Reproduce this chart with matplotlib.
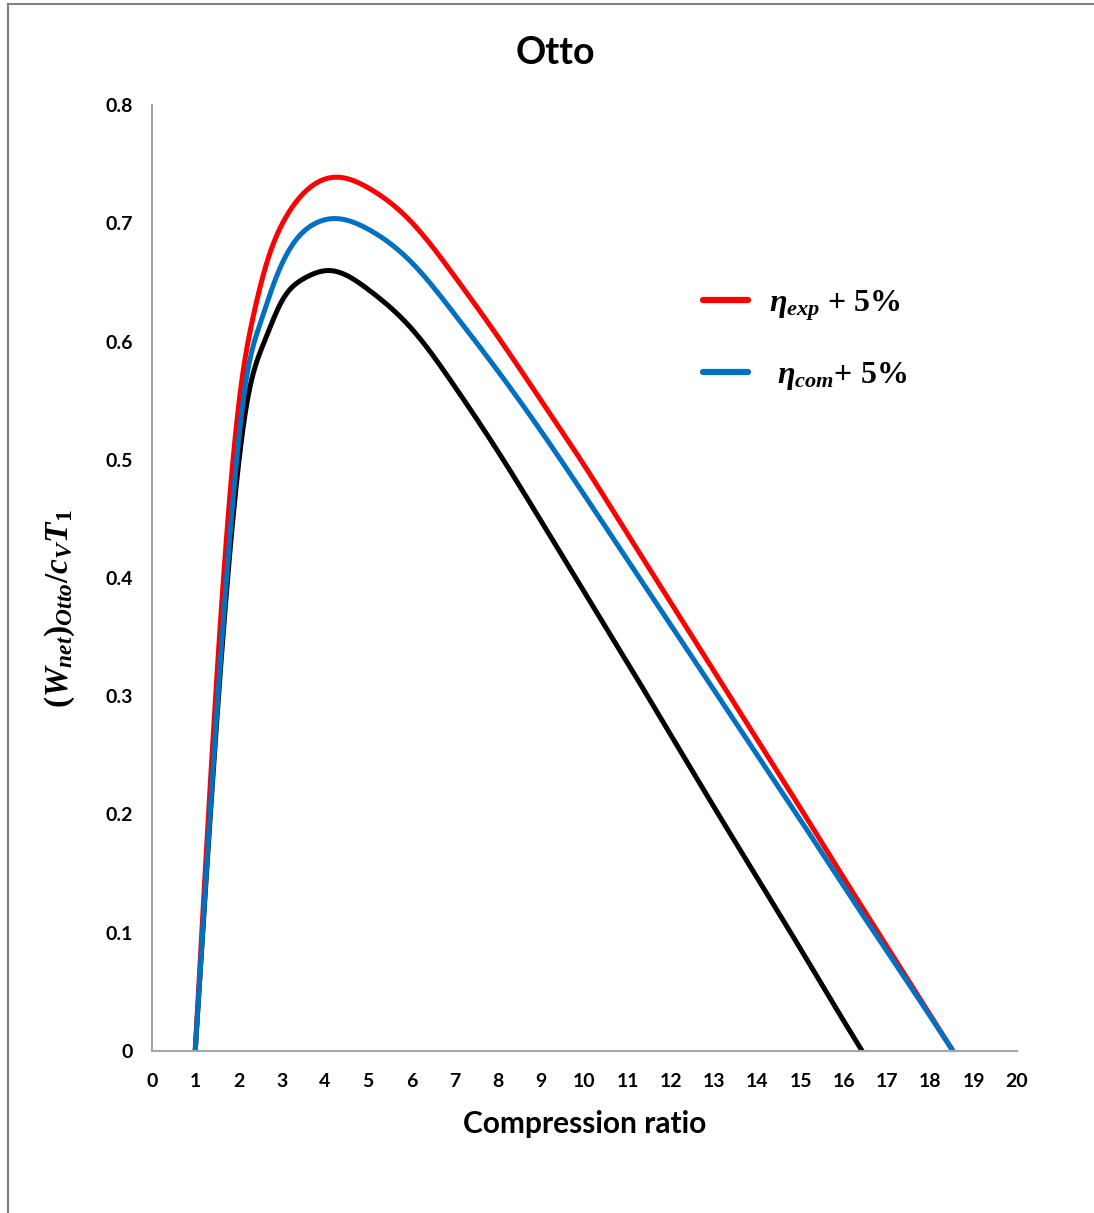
import numpy as np
import matplotlib
matplotlib.use("Agg")
import matplotlib.pyplot as plt
from matplotlib.lines import Line2D

# ---- data ----
ratio_base = [1, 1.92, 2.2, 2.6, 3, 3.5, 4.12, 5, 6, 7, 8, 9, 10, 11, 12, 13, 14, 15, 16, 16.42]
w_base = [0.0, 0.468, 0.549, 0.600, 0.634, 0.653, 0.660, 0.644, 0.611, 0.562, 0.507,
          0.448, 0.388, 0.328, 0.267, 0.206, 0.146, 0.086, 0.025, 0.0]

ratio_exp = [1, 1.8, 2.07, 2.34, 2.65, 3.11, 3.58, 4.27, 5, 6, 7, 8, 9, 10, 11, 12, 13,
             14, 15, 16, 17, 18, 18.52]
w_exp = [0.0, 0.469, 0.565, 0.621, 0.666, 0.706, 0.728, 0.739, 0.730, 0.701, 0.655,
         0.604, 0.550, 0.495, 0.437, 0.379, 0.321, 0.263, 0.205, 0.146, 0.088, 0.030, 0.0]

ratio_com = [1, 1.88, 2.15, 2.5, 2.88, 3.27, 3.73, 4.23, 5, 6, 7, 8, 9, 10, 11, 12, 13,
             14, 15, 16, 17, 18, 18.52]
w_com = [0.0, 0.469, 0.561, 0.615, 0.655, 0.683, 0.699, 0.704, 0.695, 0.667, 0.623,
         0.575, 0.524, 0.470, 0.415, 0.360, 0.305, 0.250, 0.195, 0.139, 0.084, 0.029, 0.0]

x_ticks = list(range(0, 21))
y_ticks = [0, 0.1, 0.2, 0.3, 0.4, 0.5, 0.6, 0.7, 0.8]
y_tick_labels = ["0", "0.1", "0.2", "0.3", "0.4", "0.5", "0.6", "0.7", "0.8"]
legend_labels = [r"$\eta_{exp}$ + 5%", r" $\eta_{com}$+ 5%"]


def smooth(xs, ys, n=30):
    """Smoothed rendering of the line (natural cubic spline through the points)."""
    x = np.asarray(xs, float)
    y = np.asarray(ys, float)
    N = len(x)
    h = np.diff(x)
    A = np.zeros((N, N))
    b = np.zeros(N)
    A[0, 0] = 1.0
    A[-1, -1] = 1.0
    for i in range(1, N - 1):
        A[i, i - 1] = h[i - 1]
        A[i, i] = 2 * (h[i - 1] + h[i])
        A[i, i + 1] = h[i]
        b[i] = 6 * ((y[i + 1] - y[i]) / h[i] - (y[i] - y[i - 1]) / h[i - 1])
    M = np.linalg.solve(A, b)
    ox, oy = [], []
    for i in range(N - 1):
        t = np.linspace(x[i], x[i + 1], n)
        if i > 0:
            t = t[1:]
        a = x[i + 1] - t
        c = t - x[i]
        s = (M[i] * a ** 3 + M[i + 1] * c ** 3) / (6 * h[i]) \
            + (y[i] / h[i] - M[i] * h[i] / 6) * a + (y[i + 1] / h[i] - M[i + 1] * h[i] / 6) * c
        ox.append(t)
        oy.append(s)
    return np.concatenate(ox), np.concatenate(oy)


plt.rcParams["mathtext.fontset"] = "custom"
plt.rcParams["mathtext.rm"] = "Liberation Serif:bold"
plt.rcParams["mathtext.it"] = "Liberation Serif:italic:bold"
plt.rcParams["mathtext.bf"] = "Liberation Serif:bold"

fig = plt.figure(figsize=(10.94, 12.13), dpi=100)
ax = fig.add_axes([0.1389, 0.1336, 0.9296 - 0.1389, 0.9134 - 0.1336])

for xs, ys, c in [(ratio_base, w_base, "#000000"),
                  (ratio_exp, w_exp, "#FF0000"),
                  (ratio_com, w_com, "#0070C0")]:
    sx, sy = smooth(xs, ys)
    ax.plot(sx, sy, color=c, lw=3.6, solid_capstyle="round", solid_joinstyle="round")

tick_font = dict(fontfamily="Lato", fontweight="bold", fontsize=14)
ax.set_xlim(0, 20)
ax.set_ylim(0, 0.8)
ax.set_xticks(x_ticks)
ax.set_xticklabels([str(v) for v in x_ticks], **tick_font)
ax.set_yticks(y_ticks)
ax.set_yticklabels(y_tick_labels, **tick_font)
ax.tick_params(axis="x", length=0, pad=16)
ax.tick_params(axis="y", length=0, pad=14)
for s in ["top", "right"]:
    ax.spines[s].set_visible(False)
for s in ["left", "bottom"]:
    ax.spines[s].set_color("#A6A6A6")
    ax.spines[s].set_linewidth(1.5)

fig.text(555 / 1094, 1 - 53 / 1213, "Otto", fontfamily="Lato", fontweight="bold",
         fontsize=27, ha="center", va="center")
ax.set_xlabel("Compression ratio", fontfamily="Lato", fontweight="bold",
              fontsize=21.5, labelpad=14)
ax.set_ylabel(r"$(W_{net})_{Otto}/c_V T_1$", fontsize=24)
ax.yaxis.set_label_coords(-0.087, 0.467)

handles = [Line2D([], [], color="#FF0000", lw=4.5, solid_capstyle="round"),
           Line2D([], [], color="#0070C0", lw=4.5, solid_capstyle="round")]
ax.legend(handles, legend_labels, loc="upper left", bbox_to_anchor=(0.604, 0.8365),
          frameon=False, prop=dict(family="Liberation Serif", weight="bold", size=23),
          handlelength=1.4, handletextpad=0.65, labelspacing=1.15)

# outer frame (top and left edges)
fig.add_artist(Line2D([0.0073, 1.0], [0.9967, 0.9967], transform=fig.transFigure,
                      color="#808080", lw=1.5))
fig.add_artist(Line2D([0.0073, 0.0073], [0.0, 0.9967], transform=fig.transFigure,
                      color="#808080", lw=1.5))

fig.savefig("out.png", dpi=100)
